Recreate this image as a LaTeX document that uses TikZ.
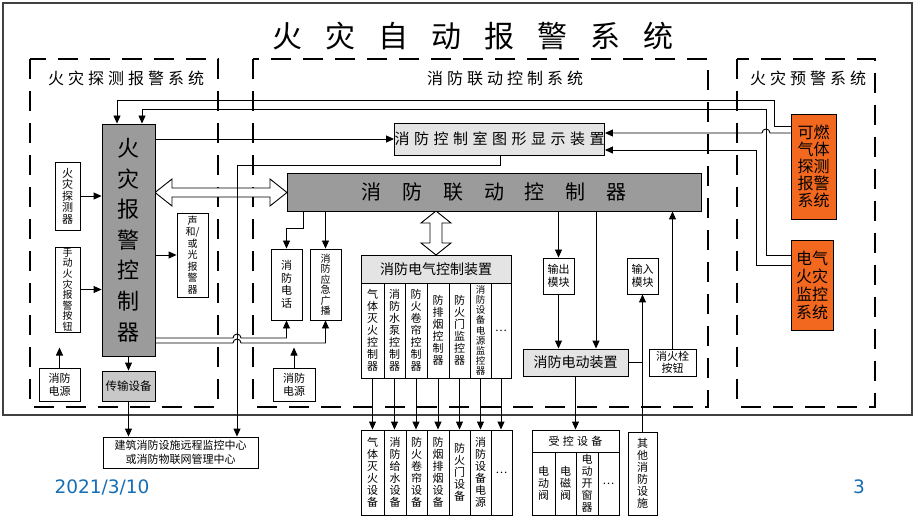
\documentclass[tikz,border=0pt]{standalone}
\usepackage{fontspec}
\setmainfont{Liberation Serif}
\newfontfamily\cjk{Noto Sans CJK SC}
\newfontfamily\datefont{DejaVu Sans}
\usetikzlibrary{arrows.meta}
\definecolor{darkbox}{RGB}{155,155,155}
\definecolor{lightbox}{RGB}{228,228,228}
\definecolor{midbox}{RGB}{200,200,200}
\definecolor{orangebox}{RGB}{242,104,30}
\definecolor{dateblue}{RGB}{22,110,180}
\newcommand\fsz[2]{\fontsize{#1}{#2}\selectfont}
\makeatletter
\newcommand\LS[2]{\def\LS@sp{#1}\LS@a#2\@nil}
\def\LS@a#1#2\@nil{#1\ifx\relax#2\relax\else\hspace{\LS@sp}\LS@a#2\@nil\fi}
\makeatother
\newcommand\mybox[7][]{\node[bx,#1,minimum width={(#5-#3)*1pt},minimum height={(#6-#4)*1pt}] (#2) at ({(#3+#5)/2},{(#4+#6)/2}) {#7};}
\begin{document}
\begin{tikzpicture}[x=1pt,y=-1pt,
 bx/.style={draw,line width=0.9pt,inner sep=0pt,align=center,fill=white,font=\cjk},
 ln/.style={line width=0.9pt},
 arr/.style={line width=0.9pt,-{Triangle[length=8pt,width=7pt]}},
 grp/.style={line width=1.1pt,dash pattern=on 20pt off 12pt},
 lbl/.style={inner sep=0pt},
]
\fill[white] (0,0) rectangle (920,518);
\useasboundingbox (0,0) rectangle (920,518);
% frame and groups
\draw[line width=1.3pt,black!75] (3,3) rectangle (912,415);
\draw[grp] (30,59) rectangle (218,407);
\draw[grp] (253,59) rectangle (708,407);
\draw[grp] (737,59) rectangle (875,407);
\node[lbl,font=\cjk\fsz{30}{30}] (title) at (473,36) {\LS{23pt}{火灾自动报警系统}};
\node[lbl,font=\cjk\fsz{16}{16}] (g1) at (126,78) {\LS{4pt}{火灾探测报警系统}};
\node[lbl,font=\cjk\fsz{16}{16}] (g2) at (505,78) {\LS{4pt}{消防联动控制系统}};
\node[lbl,font=\cjk\fsz{16}{16}] (g3) at (808,78) {\LS{4pt}{火灾预警系统}};
% double arrows
\draw[line width=0.9pt,fill=white] (155,192.5) -- (172,179) -- (172,188) -- (270,188) -- (270,179) -- (287,192.5) -- (270,206) -- (270,197) -- (172,197) -- (172,206) -- cycle;
\draw[line width=0.9pt,fill=white] (436,211) -- (451,223) -- (442,223) -- (442,243) -- (451,243) -- (436,255) -- (421,243) -- (430,243) -- (430,223) -- (421,223) -- cycle;
% nodes
\mybox[fill=darkbox,font=\cjk\fsz{22}{30.6}]{fac}{102}{124}{155}{356}{火\\灾\\报\\警\\控\\制\\器}
\mybox[font=\cjk\fsz{11}{11.5}]{det}{55}{162}{80}{230}{火\\灾\\探\\测\\器}
\mybox[font=\cjk\fsz{10}{10.6}]{man}{55}{247}{80}{332}{手\\动\\火\\灾\\报\\警\\按\\钮}
\mybox[font=\cjk\fsz{11}{13}]{pw1}{39}{368}{80}{401}{消防\\电源}
\mybox[fill=midbox,font=\cjk\fsz{11.5}{12}]{trans}{102}{371}{155}{401}{传输设备}
\mybox[font=\cjk\fsz{11}{14}]{remote}{103}{437}{258}{468}{建筑消防设施远程监控中心\\或消防物联网管理中心}
\mybox[font=\cjk\fsz{10}{11.5}]{snd}{177}{213}{208}{297}{声\\和/\\或\\光\\报\\警\\器}
\mybox[fill=lightbox,font=\cjk\fsz{15}{15}]{disp}{395}{123}{604}{155}{\LS{4.5pt}{消防控制室图形显示装置}}
\mybox[fill=darkbox,font=\cjk\fsz{20}{20}]{lc}{287}{173}{701}{211}{\LS{20.7pt}{消防联动控制器}}
\mybox[font=\cjk\fsz{11}{12.5}]{tel}{271}{249}{302}{320}{消\\防\\电\\话}
\mybox[font=\cjk\fsz{10}{10.5}]{brd}{310}{249}{341}{320}{消\\防\\应\\急\\广\\播}
\mybox[font=\cjk\fsz{11}{13}]{pw2}{273}{368}{315}{401}{消防\\电源}
\mybox[fill=lightbox,font=\cjk\fsz{14}{14}]{ecdh}{361}{255}{511}{283}{消防电气控制装置}
\mybox[font=\cjk\fsz{11}{12}]{e1}{361}{283}{384}{378}{气\\体\\灭\\火\\控\\制\\器}
\mybox[font=\cjk\fsz{11}{12}]{e2}{384}{283}{405}{378}{消\\防\\水\\泵\\控\\制\\器}
\mybox[font=\cjk\fsz{11}{12}]{e3}{405}{283}{427}{378}{防\\火\\卷\\帘\\控\\制\\器}
\mybox[font=\cjk\fsz{11}{12}]{e4}{427}{283}{449}{378}{防\\排\\烟\\控\\制\\器}
\mybox[font=\cjk\fsz{11}{12}]{e5}{449}{283}{470}{378}{防\\火\\门\\监\\控\\器}
\mybox[font=\cjk\fsz{9.5}{10.2}]{e6}{470}{283}{491}{378}{消\\防\\设\\备\\电\\源\\监\\控\\器}
\mybox[font=\cjk\fsz{11}{12}]{e7}{491}{283}{511}{378}{…}
\mybox[font=\cjk\fsz{11}{12}]{q1}{361}{430}{384}{515}{气\\体\\灭\\火\\设\\备}
\mybox[font=\cjk\fsz{11}{12}]{q2}{384}{430}{406}{515}{消\\防\\给\\水\\设\\备}
\mybox[font=\cjk\fsz{11}{12}]{q3}{406}{430}{427}{515}{防\\火\\卷\\帘\\设\\备}
\mybox[font=\cjk\fsz{11}{12}]{q4}{427}{430}{449}{515}{防\\烟\\排\\烟\\设\\备}
\mybox[font=\cjk\fsz{11}{12}]{q5}{449}{430}{470}{515}{防\\火\\门\\设\\备}
\mybox[font=\cjk\fsz{11}{12}]{q6}{470}{430}{491}{515}{消\\防\\设\\备\\电\\源}
\mybox[font=\cjk\fsz{11}{12}]{q7}{491}{430}{512}{515}{…}
\mybox[font=\cjk\fsz{11}{13}]{om}{543}{258}{574}{294}{输出\\模块}
\mybox[font=\cjk\fsz{11}{13}]{im}{627}{258}{658}{294}{输入\\模块}
\mybox[fill=lightbox,font=\cjk\fsz{14}{14}]{med}{523}{349}{628}{376}{消防电动装置}
\mybox[font=\cjk\fsz{11}{12}]{hyd}{649}{349}{696}{376}{消火栓\\按钮}
\mybox[font=\cjk\fsz{11}{11}]{ctlh}{532}{430}{619}{452}{\LS{3.3pt}{受控设备}}
\mybox[font=\cjk\fsz{11}{12}]{c1}{532}{452}{555}{515}{电\\动\\阀}
\mybox[font=\cjk\fsz{11}{12}]{c2}{555}{452}{576}{515}{电\\磁\\阀}
\mybox[font=\cjk\fsz{11}{12}]{c3}{576}{452}{598}{515}{电\\动\\开\\窗\\器}
\mybox[font=\cjk\fsz{11}{12}]{c4}{598}{452}{619}{515}{…}
\mybox[font=\cjk\fsz{11}{12}]{oth}{628}{432}{657}{515}{其\\他\\消\\防\\设\\施}
\mybox[fill=orangebox,font=\cjk\fsz{16}{17}]{gas}{791}{114}{836}{219}{可燃\\气体\\探测\\报警\\系统}
\mybox[fill=orangebox,font=\cjk\fsz{16}{18}]{elec}{791}{240}{833}{330}{电气\\火灾\\监控\\系统}
% connectors
\draw[arr] (gas.west |- 0,126) -- (774,126) -- (774,100) -- (117,100) -- (fac.north -| 117,0);
\draw[arr] (elec.west |- 0,255) -- (766,255) -- (766,109) -- (142,109) -- (fac.north -| 142,0);
\draw[arr] (gas.west |- 0,133) -- (770,133) arc[start angle=0,end angle=180,radius=4pt] -- (disp.east |- 0,133);
\draw[arr] (elec.west |- 0,265) -- (756,265) -- (756,150) -- (disp.east |- 0,150);
\draw[arr] (fac.east |- disp.west) -- (disp.west);
\draw[arr] (disp.south -| 500,0) -- (500,165) -- (237,165) -- (remote.north -| 237,0);
\draw[arr] (fac.south) -- (trans.north);
\draw[arr] (trans.south) -- (trans.south |- remote.north);
\draw[arr] (det.east) -- (det.east -| fac.west);
\draw[arr] (man.east) -- (man.east -| fac.west);
\draw[arr] (pw1.north) -- ++(0,-20);
\draw[arr] (fac.east |- snd.west) -- (snd.west);
\draw[arr] (fac.east |- 0,338) -- (233,338) arc[start angle=180,end angle=0,radius=4pt] -- (tel.south |- 0,338) -- (tel.south);
\draw[arr] (fac.east |- 0,343) -- (233,343) arc[start angle=180,end angle=0,radius=4pt] -- (brd.south |- 0,343) -- (brd.south);
\draw[arr] (lc.south -| 303,0) -- (303,228) -- (tel.north |- 0,228) -- (tel.north);
\draw[arr] (lc.south -| brd.north) -- (brd.north);
\draw[arr] (pw2.north) -- ++(0,-20);
\draw[arr] (lc.south -| om.north) -- (om.north);
\draw[arr] (om.south) -- (om.south |- med.north);
\draw[arr] (lc.south -| 596,0) -- (med.north -| 596,0);
\draw[arr] (hyd.north) -- (hyd.north |- lc.south);
\draw[arr] (oth.north) -- (oth.north |- im.south);
\draw[ln] (med.east) -- (med.east -| oth.north);
\draw[arr] (med.south) -- (med.south |- ctlh.north);
\foreach \i in {1,...,7}{\draw[arr] (e\i.south) -- (e\i.south |- q\i.north);}
% date and page
\node[lbl,font=\datefont\fsz{18.5}{20},text=dateblue] (date) at (102,487) {2021/3/10};
\node[lbl,font=\datefont\fsz{18.5}{20},text=dateblue] (page) at (859,487) {3};
\end{tikzpicture}
\end{document}
